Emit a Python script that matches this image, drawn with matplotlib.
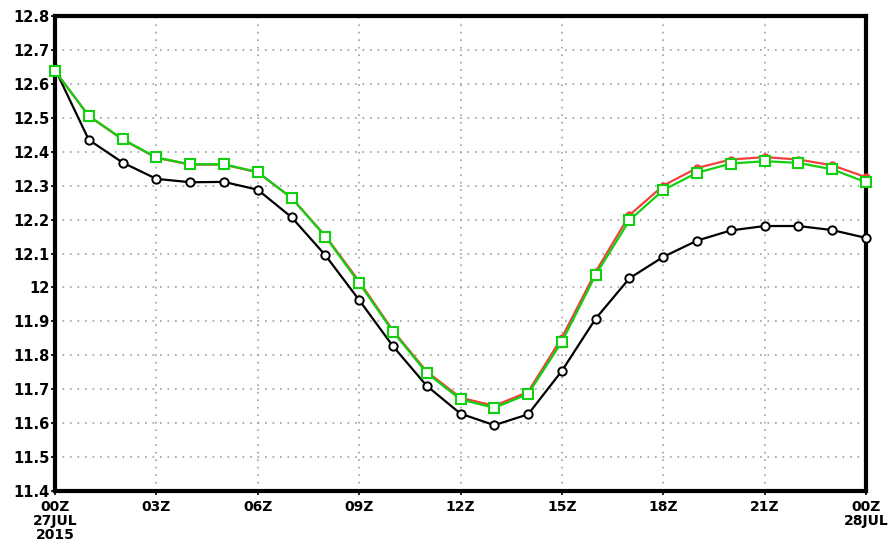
import numpy as np
import matplotlib
matplotlib.use('Agg')
from matplotlib import pyplot as plt

# hours from 00Z 27JUL2015
hours = list(range(25))
black_vals = [12.644, 12.435, 12.368, 12.32, 12.31, 12.311, 12.288, 12.207, 12.095, 11.963,
              11.827, 11.71, 11.628, 11.594, 11.626, 11.754, 11.908, 12.027, 12.09, 12.138,
              12.168, 12.181, 12.181, 12.169, 12.146]
red_vals = [12.638, 12.505, 12.436, 12.382, 12.362, 12.362, 12.339, 12.264, 12.152, 12.018,
            11.873, 11.752, 11.675, 11.651, 11.692, 11.852, 12.046, 12.213, 12.300, 12.352,
            12.377, 12.384, 12.377, 12.360, 12.325]
green_vals = [12.638, 12.506, 12.437, 12.383, 12.363, 12.363, 12.340, 12.264, 12.150, 12.013,
              11.870, 11.748, 11.670, 11.645, 11.686, 11.840, 12.037, 12.198, 12.287, 12.338,
              12.365, 12.372, 12.367, 12.348, 12.310]
xtick_pos = [0, 3, 6, 9, 12, 15, 18, 21, 24]
xtick_labels = ['00Z\n27JUL\n2015', '03Z', '06Z', '09Z', '12Z', '15Z', '18Z', '21Z', '00Z\n28JUL']
ytick_pos = [11.4, 11.5, 11.6, 11.7, 11.8, 11.9, 12.0, 12.1, 12.2, 12.3, 12.4, 12.5, 12.6, 12.7, 12.8]
ytick_labels = ['11.4', '11.5', '11.6', '11.7', '11.8', '11.9', '12', '12.1', '12.2', '12.3',
                '12.4', '12.5', '12.6', '12.7', '12.8']

plt.rcParams['font.family'] = ['DejaVu Sans']

fig = plt.figure(figsize=(8.88, 5.41), dpi=100)
ax = fig.add_axes([55/888, 50/541, 811/888, 475/541])

ax.plot(hours, black_vals, color='black', lw=1.6, marker='o', ms=6, mfc='white',
        mec='black', mew=1.4, zorder=3, clip_on=False)
ax.plot(hours, red_vals, color='#f04040', lw=1.6, marker='o', ms=5, mfc='#f04040',
        mec='#f04040', zorder=4, clip_on=False)
ax.plot(hours, green_vals, color='#10d010', lw=1.6, marker='s', ms=7, mfc='white',
        mec='#10d010', mew=1.5, zorder=5, clip_on=False)

ax.set_xlim(0, 24)
ax.set_ylim(11.4, 12.8)
ax.set_xticks(xtick_pos)
ax.set_xticklabels(xtick_labels, fontsize=10, fontweight='bold', linespacing=1.0)
ax.set_yticks(ytick_pos)
ax.set_yticklabels(ytick_labels, fontsize=10.5, fontweight='bold')
ax.tick_params(direction='out', length=3, width=1.2)
ax.tick_params(axis='y', pad=1)
ax.tick_params(axis='x', pad=3.5)

ax.grid(True, color='#a0a0a0', linestyle=(0, (1, 3.5)), lw=1.2)
ax.set_axisbelow(True)
for s in ax.spines.values():
    s.set_linewidth(3)
    s.set_color('black')

fig.savefig('out.png', dpi=100)
